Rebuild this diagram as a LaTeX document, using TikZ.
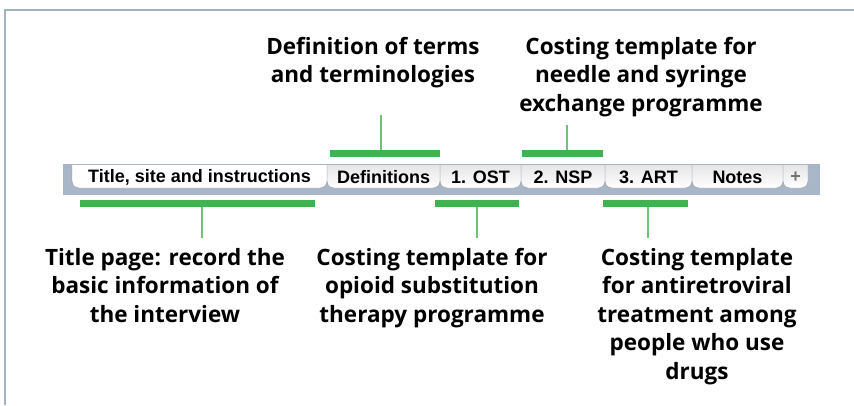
\documentclass[tikz,border=0pt]{standalone}
\usepackage{fontspec}
\setmainfont{Open Sans}
\newfontfamily\tabfont{Liberation Sans}
\usepackage{tikz}
\usetikzlibrary{positioning}

\definecolor{barra}{HTML}{3FB34F}
\definecolor{asta}{HTML}{6CC477}
\definecolor{cornice}{HTML}{A3B2C2}
\definecolor{fondotab}{HTML}{A8B6C7}
\definecolor{bordotab}{HTML}{9098A3}

% una linguetta: #1 x sinistra, #2 x destra, #3 colore in alto, #4 nome, #5 testo
\newcommand{\linguetta}[5]{%
  \path[draw=bordotab, top color=#3, bottom color=white, rounded corners=7pt]
    (#1,165) -- (#1,188) -- (#2,188) -- (#2,165);
  \node[testotab] (#4) at ({(#1+#2)/2},177) {#5};
}

\begin{document}
\begin{tikzpicture}[x=1pt, y=-1pt,
    verde/.style={fill=barra, inner sep=0pt, minimum height=7pt},
    etichetta/.style={align=center, anchor=north, inner sep=0pt,
      font=\bfseries\fontsize{22.5}{28.5}\selectfont},
    testotab/.style={font=\tabfont\bfseries\fontsize{18}{18}\selectfont,
      inner sep=0pt, text=black}]

  \useasboundingbox (0,0) rectangle (854,405);
  % cornice
  \draw[cornice, line width=1.5pt] (5,405) -- (5,10) -- (854,10);

  % barra delle schede
  \fill[fondotab] (63,195) -- (63,164) -- (820,164) -- (820,195) -- cycle;
  \linguetta{783}{808}{black!10}{piu}{\textcolor{black!55}{+}}
  \linguetta{692}{783}{black!10}{note}{Notes}
  \linguetta{605}{692}{black!10}{art}{3. ART}
  \linguetta{521}{605}{black!10}{nsp}{2. NSP}
  \linguetta{440}{521}{black!10}{ost}{1. OST}
  \linguetta{327}{440}{black!10}{def}{Definitions}
  \linguetta{72}{327}{white}{titolo}{Title, site and instructions}

  % barre verdi
  \node[verde, minimum width=235pt] (barraTitolo) at (197.5,203.5) {};
  \node[verde, minimum width=110pt] (barraDef) at (385,153.5) {};
  \node[verde, minimum width=84pt] (barraOst) at (477,203.5) {};
  \node[verde, minimum width=81pt] (barraNsp) at (562.5,153.5) {};
  \node[verde, minimum width=85pt] (barraArt) at (645.5,203.5) {};

  % aste
  \coordinate (fineTitolo) at (202,238);
  \coordinate (fineDef) at (381,115);
  \coordinate (fineOst) at (477,238);
  \coordinate (fineNsp) at (567,125);
  \coordinate (fineArt) at (648,238);
  \draw[asta, line width=1.4pt] (barraTitolo.south -| fineTitolo) -- (fineTitolo);
  \draw[asta, line width=1.4pt] (barraDef.north -| fineDef) -- (fineDef);
  \draw[asta, line width=1.4pt] (barraOst.south -| fineOst) -- (fineOst);
  \draw[asta, line width=1.4pt] (barraNsp.north -| fineNsp) -- (fineNsp);
  \draw[asta, line width=1.4pt] (barraArt.south -| fineArt) -- (fineArt);

  % testi
  \node[etichetta] (testoDef) at (373,37) {Definition of terms\\and terminologies};
  \node[etichetta] (testoNsp) at (641,37) {Costing template for\\needle and syringe\\exchange programme};
  \node[etichetta] (testoTitolo) at (165,248) {Title page: record the\\basic information of\\the interview};
  \node[etichetta] (testoOst) at (432,248) {Costing template for\\opioid substitution\\therapy programme};
  \node[etichetta] (testoArt) at (697,248) {Costing template\\for antiretroviral\\treatment among\\people who use\\drugs};
\end{tikzpicture}
\end{document}
